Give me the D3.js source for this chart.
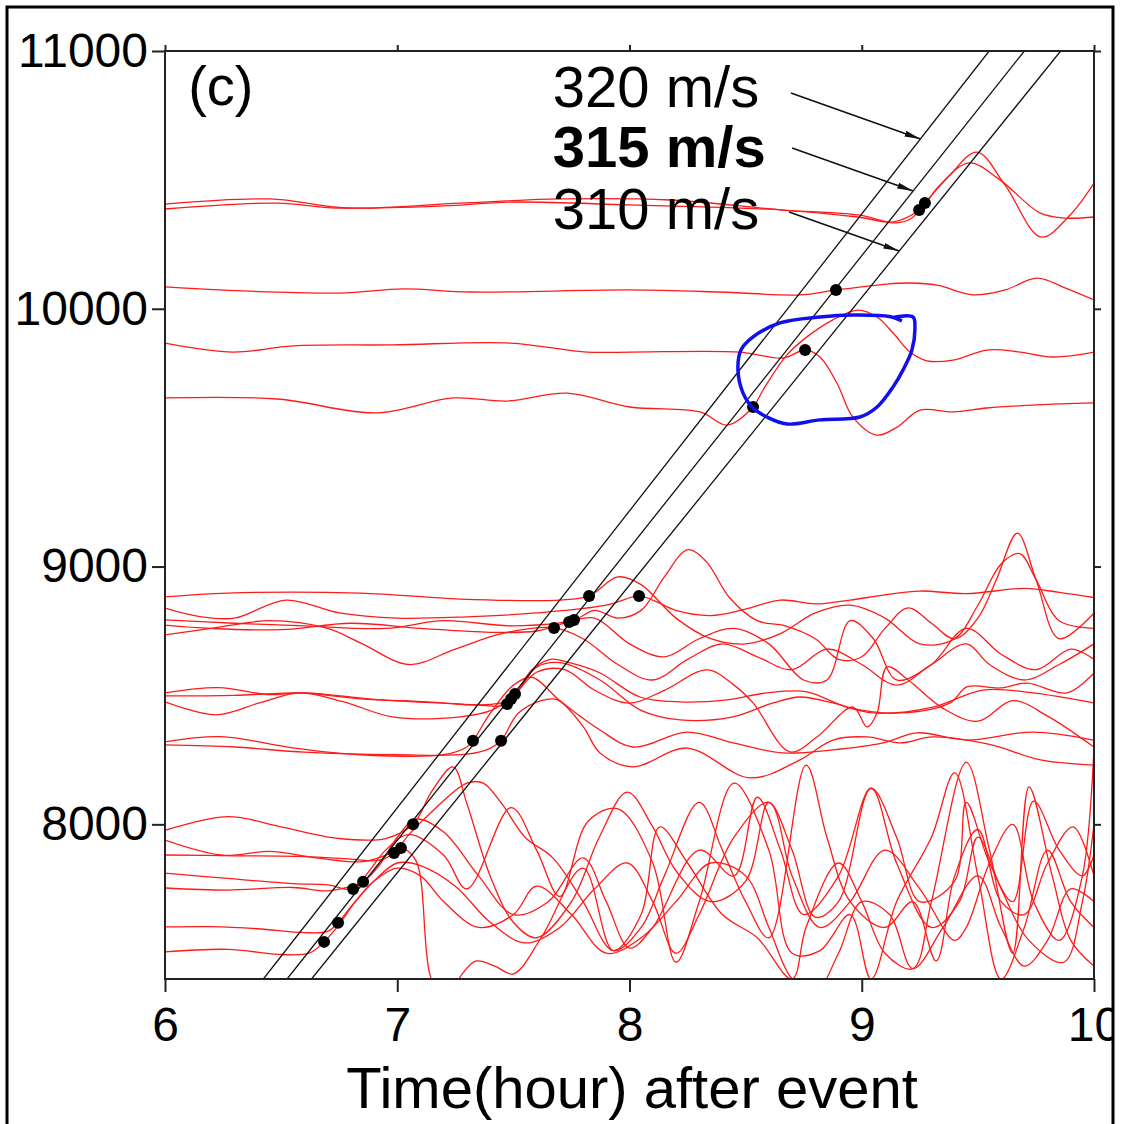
<!DOCTYPE html>
<html lang="en">
<head>
<meta charset="utf-8" />
<script src="https://d3js.org/d3.v7.min.js"></script>
<style>
    body { margin: 0; background: #fff; }
    svg { display: block; font-family: "Liberation Sans", Arial, sans-serif; }
</style>
</head>
<body>
<script>
// axis ticks
var xTicks = [6, 7, 8, 9, 10];
var yTicks = [8000, 9000, 10000, 11000];

// reference propagation speeds (m/s), drawn as d = v*3.6*t
var speeds = [320, 315, 310];

// arrival picks [hour, km]
var picks = [
    [6.685, 7544], [6.745, 7618], [6.81, 7749], [6.853, 7777], [6.986, 7889], [7.016, 7908], [7.068, 8000],
    [7.326, 8324], [7.447, 8324], [7.473, 8467], [7.49, 8486], [7.507, 8506],
    [7.675, 8762], [7.74, 8785], [7.761, 8793], [7.826, 8886], [8.041, 8886],
    [8.532, 9619], [8.756, 9840], [8.889, 10073],
    [9.247, 10383], [9.272, 10410]
];

// waveforms [hour, km], one array per station
var trA = [[6.0,10406],[6.452,10426],[6.784,10391],[7.27,10410],[7.701,10426],[8.174,10422],[8.661,10383],[8.984,10364],[9.147,10333],[9.216,10352],[9.272,10410],[9.38,10519],[9.496,10608],[9.617,10480],[9.772,10278],[9.897,10364],[10.0,10488]];
var trB = [[6.0,10387],[6.482,10410],[6.741,10391],[7.197,10399],[7.485,10414],[8.002,10403],[8.661,10383],[8.984,10356],[9.135,10337],[9.247,10383],[9.337,10480],[9.462,10566],[9.595,10500],[9.767,10372],[9.875,10352],[10.0,10356]];
var trC = [[6.0,10085],[6.237,10073],[6.754,10061],[7.025,10077],[7.313,10065],[8.002,10073],[8.39,10065],[8.734,10054],[8.889,10073],[9.109,10096],[9.208,10100],[9.324,10092],[9.479,10054],[9.617,10073],[9.755,10119],[9.875,10081],[10.0,10034]];
var trD = [[6.0,9867],[6.293,9832],[6.551,9856],[6.982,9860],[7.485,9867],[7.817,9832],[8.002,9832],[8.476,9832],[8.661,9809],[8.756,9840],[8.82,9813],[8.893,9712],[8.962,9580],[9.066,9510],[9.152,9541],[9.251,9607],[9.393,9600],[9.539,9615],[9.755,9627],[10.0,9635]];
var trE = [[6.0,9654],[6.482,9650],[6.913,9596],[7.24,9654],[7.473,9642],[7.731,9673],[8.002,9619],[8.304,9600],[8.42,9549],[8.532,9619],[8.575,9685],[8.678,9821],[8.764,9891],[8.876,9957],[8.984,9995],[9.066,9968],[9.135,9906],[9.208,9832],[9.281,9798],[9.393,9801],[9.539,9840],[9.681,9832],[9.823,9813],[10.0,9832]];

var trH1 = [[6.0,8882],[6.27,8897],[6.84,8897],[7.27,8874],[7.7,8870],[7.826,8886],[7.95,8960],[8.05,8930],[8.2,8800],[8.35,8720],[8.5,8700],[8.65,8740],[8.8,8820],[8.95,8850],[9.1,8800],[9.25,8700],[9.4,8720],[9.5,8850],[9.6,9010],[9.68,9050],[9.75,8950],[9.85,8790],[10.0,8760]];
var trH2 = [[6.0,8839],[6.15,8806],[6.3,8800],[6.52,8870],[6.75,8820],[7.0,8800],[7.3,8805],[7.6,8820],[7.9,8850],[8.041,8886],[8.1,8870],[8.2,8830],[8.35,8810],[8.5,8835],[8.65,8870],[8.8,8855],[8.95,8870],[9.1,8890],[9.25,8905],[9.45,8895],[9.7,8915],[9.85,8900],[10.0,8880]];
var trH3 = [[6.0,8793],[6.3,8780],[6.6,8770],[6.95,8760],[7.2,8790],[7.5,8770],[7.761,8793],[7.85,8830],[7.95,8800],[8.05,8830],[8.15,8960],[8.25,9065],[8.33,9020],[8.43,8880],[8.55,8790],[8.67,8770],[8.8,8720],[8.9,8640],[9.0,8650],[9.1,8760],[9.2,8840],[9.3,8780],[9.4,8720],[9.5,8800],[9.58,8950],[9.67,9130],[9.75,8950],[9.85,8720],[10.0,8820]];
var trH4 = [[6.0,8773],[6.2,8760],[6.5,8755],[6.8,8780],[7.1,8760],[7.4,8745],[7.6,8750],[7.74,8785],[7.85,8800],[8.0,8700],[8.15,8650],[8.3,8720],[8.45,8760],[8.6,8700],[8.75,8560],[8.85,8560],[8.95,8790],[9.05,8720],[9.15,8560],[9.3,8620],[9.45,8760],[9.6,8660],[9.75,8600],[9.9,8680],[10.0,8640]];
var trH5 = [[6.0,8735],[6.2,8760],[6.45,8790],[6.7,8760],[6.85,8700],[7.05,8620],[7.25,8680],[7.45,8740],[7.675,8762],[7.8,8720],[7.95,8620],[8.1,8560],[8.25,8640],[8.4,8700],[8.55,8650],[8.7,8600],[8.85,8680],[9.0,8620],[9.15,8540],[9.3,8620],[9.45,8700],[9.55,8620],[9.7,8560],[9.85,8620],[10.0,8700]];

var trM1 = [[6.0,8510],[6.23,8530],[6.45,8503],[6.58,8510],[6.84,8487],[7.13,8475],[7.34,8463],[7.473,8467],[7.58,8600],[7.66,8640],[7.75,8625],[7.873,8587],[8.045,8494],[8.217,8475],[8.42,8483],[8.592,8510],[8.764,8514],[8.936,8455],[9.165,8432],[9.38,8471],[9.453,8533],[9.595,8529],[9.712,8548],[9.884,8510],[10.0,8587]];
var trM2 = [[6.0,8498],[6.3,8500],[6.6,8510],[6.9,8485],[7.2,8470],[7.4,8465],[7.49,8486],[7.6,8610],[7.7,8627],[7.873,8560],[8.045,8444],[8.217,8405],[8.446,8417],[8.618,8471],[8.734,8494],[8.876,8471],[9.048,8432],[9.307,8455],[9.522,8521],[9.737,8510],[10.0,8471]];
var trM3 = [[6.0,8475],[6.22,8425],[6.41,8472],[6.58,8510],[6.77,8475],[6.98,8417],[7.27,8417],[7.41,8444],[7.507,8506],[7.6,8590],[7.72,8600],[7.85,8520],[8.0,8470],[8.15,8520],[8.334,8599],[8.45,8540],[8.532,8471],[8.691,8281],[8.807,8339],[8.962,8455],[9.023,8378],[9.066,8432],[9.109,8611],[9.2,8560],[9.35,8450],[9.5,8400],[9.65,8480],[9.8,8420],[10.0,8300]];
var trM4 = [[6.0,8320],[6.24,8340],[6.55,8297],[6.84,8270],[7.2,8270],[7.3,8300],[7.326,8324],[7.4,8430],[7.5,8540],[7.58,8570],[7.7,8480],[7.873,8366],[8.015,8300],[8.248,8358],[8.446,8316],[8.661,8277],[8.876,8289],[9.092,8316],[9.238,8355],[9.453,8327],[9.737,8358],[10.0,8327]];
var trM5 = [[6.0,8308],[6.3,8300],[6.6,8280],[7.0,8270],[7.3,8272],[7.4,8295],[7.447,8324],[7.52,8430],[7.62,8480],[7.69,8483],[7.8,8380],[7.873,8277],[8.015,8223],[8.248,8296],[8.519,8180],[8.734,8250],[8.876,8327],[9.023,8339],[9.165,8316],[9.307,8339],[9.55,8310],[9.77,8250],[10.0,8230]];

var trL1 = [[6.0,7977],[6.27,8030],[6.5,7990],[6.75,7945],[6.95,7945],[7.068,8000],[7.15,8130],[7.24,8223],[7.3,8080],[7.4,7800],[7.5,7620],[7.6,7560],[7.75,7700],[7.87,7950],[7.99,8125],[8.1,7990],[8.2,7820],[8.35,7700],[8.5,7780],[8.6,8085],[8.7,7900],[8.8,7640],[8.9,7700],[9.04,8140],[9.15,7950],[9.25,7700],[9.4,7780],[9.45,8085],[9.55,7850],[9.65,7700],[9.74,8090],[9.85,7900],[9.95,7800],[10.0,7880]];
var trL2 = [[6.0,7939],[6.25,7880],[6.45,7895],[6.65,7870],[6.85,7855],[6.95,7880],[7.016,7908],[7.08,7860],[7.14,7420],[7.2,7300],[7.28,7420],[7.34,7470],[7.42,7450],[7.5,7420],[7.62,7560],[7.8,7830],[7.93,7510],[8.05,7650],[8.13,7990],[8.25,7850],[8.4,7650],[8.55,7560],[8.7,7400],[8.76,7600],[8.9,7850],[9.0,7700],[9.1,7500],[9.22,7440],[9.3,7700],[9.45,8240],[9.55,7900],[9.65,7500],[9.72,8145],[9.82,7800],[9.9,7550],[10.0,7450]];
var trL3 = [[6.0,7881],[6.3,7878],[6.6,7875],[6.8,7865],[6.92,7860],[6.986,7889],[7.05,7960],[7.15,8050],[7.3,8160],[7.37,8160],[7.45,8080],[7.55,7950],[7.67,7870],[7.8,7700],[7.93,7510],[8.05,7600],[8.15,7800],[8.3,8085],[8.4,7900],[8.5,7700],[8.6,7560],[8.76,8230],[8.85,7950],[8.95,7700],[9.1,7600],[9.22,7700],[9.32,7470],[9.4,7800],[9.5,7980],[9.6,7700],[9.7,7650],[9.8,7850],[9.91,7990],[10.0,7800]];
var trL4 = [[6.0,7811],[6.27,7790],[6.55,7770],[6.7,7765],[6.81,7749],[6.88,7820],[6.95,7900],[7.05,7960],[7.2,7880],[7.3,7750],[7.49,8065],[7.6,7900],[7.7,7720],[7.82,8010],[7.95,8060],[8.1,7850],[8.2,7465],[8.3,7700],[8.45,8160],[8.6,7900],[8.7,7500],[8.82,7510],[8.95,7650],[9.04,7400],[9.15,7700],[9.3,7950],[9.4,8200],[9.5,7800],[9.6,7400],[9.7,7600],[9.8,7900],[9.9,7700],[10.0,7600]];
var trL5 = [[6.0,7753],[6.27,7745],[6.55,7755],[6.7,7742],[6.8,7760],[6.853,7777],[6.93,7850],[7.0,7950],[7.08,8020],[7.2,7970],[7.35,7800],[7.5,7650],[7.65,7700],[7.8,7870],[7.9,7700],[8.0,7520],[8.1,7600],[8.3,7900],[8.45,7800],[8.55,8105],[8.65,7900],[8.75,7650],[8.9,7800],[9.04,8140],[9.15,7850],[9.3,7600],[9.42,7700],[9.5,7950],[9.6,7750],[9.72,7550],[9.87,7465],[9.95,7700],[10.0,8000]];
var trL6 = [[6.0,7602],[6.2,7603],[6.4,7595],[6.6,7580],[6.7,7585],[6.745,7618],[6.8,7680],[6.9,7780],[7.0,7850],[7.1,7840],[7.25,7760],[7.4,7620],[7.55,7540],[7.7,7600],[7.85,7750],[7.99,7850],[8.1,7700],[8.2,7500],[8.3,7650],[8.45,7950],[8.6,8085],[8.7,7800],[8.82,7600],[8.95,7700],[9.1,7900],[9.25,7750],[9.4,7550],[9.45,7600],[9.55,7850],[9.65,8000],[9.74,7700],[9.85,7550],[9.95,7800],[10.0,8300]];
var trL7 = [[6.0,7505],[6.27,7515],[6.5,7495],[6.62,7500],[6.685,7544],[6.74,7600],[6.82,7700],[6.9,7780],[7.0,7830],[7.1,7800],[7.2,7700],[7.35,7600],[7.5,7650],[7.6,7760],[7.75,7650],[7.9,7500],[8.05,7560],[8.2,7700],[8.35,7850],[8.5,7800],[8.6,7600],[8.7,7400],[8.8,7350],[8.9,7500],[9.0,7700],[9.12,7650],[9.22,7440],[9.35,7600],[9.5,7800],[9.6,7600],[9.7,7450],[9.8,7550],[9.9,7750],[10.0,7700]];

var traces = [trA, trB, trC, trD, trE, trH1, trH2, trH3, trH4, trH5,
              trM1, trM2, trM3, trM4, trM5, trL1, trL2, trL3, trL4, trL5, trL6, trL7];

// hand drawn highlight around the 9600-10000 km arrivals [hour, km]
var loop = [[9.135,9966],[9.221,9968],[9.229,9926],[9.216,9840],[9.178,9763],[9.135,9697],[9.066,9619],[8.992,9580],[8.82,9569],[8.678,9553],[8.592,9580],[8.532,9615],[8.489,9673],[8.467,9763],[8.48,9840],[8.532,9891],[8.648,9945],[8.82,9968],[8.962,9976],[9.12,9970],[9.173,9953]];

// labels for the speed lines: text anchor, arrow tail and arrow tip [hour, km]
var speedLabels = [
    { text: "320 m/s", bold: false, at: [7.67, 10783], tail: [8.695, 10837], tipKm: 10659, v: 320 },
    { text: "315 m/s", bold: true,  at: [7.67, 10550], tail: [8.70, 10624], tipKm: 10457, v: 315 },
    { text: "310 m/s", bold: false, at: [7.67, 10310], tail: [8.687, 10375], tipKm: 10224, v: 310 }
];

var width = 1121, height = 1124;
var svg = d3.select("body").append("svg")
    .attr("width", width)
    .attr("height", height);

var x = d3.scaleLinear().domain([6, 10]).range([165, 1094]);
var y = d3.scaleLinear().domain([7400, 11000]).range([979, 51]);

svg.append("defs").append("clipPath").attr("id", "plot")
    .append("rect")
    .attr("x", x(6)).attr("y", y(11000))
    .attr("width", x(10) - x(6)).attr("height", y(7400) - y(11000));

svg.select("defs").append("marker")
    .attr("id", "head")
    .attr("viewBox", "0 0 16 8")
    .attr("refX", 16).attr("refY", 4)
    .attr("markerWidth", 16).attr("markerHeight", 8)
    .attr("markerUnits", "userSpaceOnUse")
    .attr("orient", "auto")
    .append("path").attr("d", "M0,1 L16,4 L0,7 Z").attr("fill", "#111");

var g = svg.append("g").attr("clip-path", "url(#plot)");

var line = d3.line()
    .x(function (d) { return x(d[0]); })
    .y(function (d) { return y(d[1]); })
    .curve(d3.curveCatmullRom.alpha(0.5));

// waveforms
g.selectAll("path.trace")
    .data(traces)
    .join("path")
    .attr("class", "trace")
    .attr("fill", "none")
    .attr("stroke", "#ff1a1a")
    .attr("stroke-width", 1.3)
    .attr("d", line);

// speed lines
g.selectAll("line.speed")
    .data(speeds)
    .join("line")
    .attr("class", "speed")
    .attr("x1", function (v) { return x(7400 / (v * 3.6)); })
    .attr("y1", y(7400))
    .attr("x2", function (v) { return x(11000 / (v * 3.6)); })
    .attr("y2", y(11000))
    .attr("stroke", "#111")
    .attr("stroke-width", 1.3);

// picks
g.selectAll("circle")
    .data(picks)
    .join("circle")
    .attr("cx", function (d) { return x(d[0]); })
    .attr("cy", function (d) { return y(d[1]); })
    .attr("r", 6)
    .attr("fill", "#000");

// blue loop
g.append("path")
    .datum(loop)
    .attr("fill", "none")
    .attr("stroke", "#1010ee")
    .attr("stroke-width", 3.5)
    .attr("stroke-linejoin", "round")
    .attr("d", line);

// plot frame
svg.append("rect")
    .attr("x", x(6)).attr("y", y(11000))
    .attr("width", x(10) - x(6)).attr("height", y(7400) - y(11000))
    .attr("fill", "none").attr("stroke", "#222").attr("stroke-width", 2);

var axisFont = function (sel) {
    sel.select(".domain").remove();
    sel.selectAll(".tick line").attr("stroke", "#222").attr("stroke-width", 2);
    sel.selectAll(".tick text").attr("fill", "#000").style("font-size", "48px")
        .style("font-family", "'Liberation Sans', Arial, sans-serif");
};

svg.append("g").attr("transform", "translate(" + x(6) + ",0)")
    .call(d3.axisLeft(y).tickValues(yTicks).tickSize(13).tickPadding(4).tickFormat(d3.format("d")))
    .call(axisFont);
svg.append("g").attr("transform", "translate(" + x(10) + ",0)")
    .call(d3.axisRight(y).tickValues(yTicks).tickSize(7).tickFormat(""))
    .call(axisFont);
svg.append("g").attr("transform", "translate(0," + y(7400) + ")")
    .call(d3.axisBottom(x).tickValues(xTicks).tickSize(13).tickPadding(15).tickFormat(d3.format("d")))
    .call(axisFont);
svg.append("g").attr("transform", "translate(0," + y(11000) + ")")
    .call(d3.axisTop(x).tickValues(xTicks).tickSize(6).tickFormat(""))
    .call(axisFont);

// panel letter
svg.append("text")
    .attr("x", x(6.1)).attr("y", y(10790))
    .style("font-size", "56px")
    .text("(c)");

// speed labels and arrows
speedLabels.forEach(function (s) {
    svg.append("text")
        .attr("x", x(s.at[0])).attr("y", y(s.at[1]))
        .style("font-size", "58px")
        .style("font-weight", s.bold ? "bold" : "normal")
        .text(s.text);
    svg.append("line")
        .attr("x1", x(s.tail[0])).attr("y1", y(s.tail[1]))
        .attr("x2", x(s.tipKm / (s.v * 3.6))).attr("y2", y(s.tipKm))
        .attr("stroke", "#111").attr("stroke-width", 1.6)
        .attr("marker-end", "url(#head)");
});

// axis title
svg.append("text")
    .attr("x", 632).attr("y", 1108)
    .attr("text-anchor", "middle")
    .style("font-size", "58px")
    .text("Time(hour) after event");

// outer figure border
svg.append("rect").attr("x", 1114).attr("y", 0).attr("width", 7).attr("height", height).attr("fill", "#fff");
svg.append("path")
    .attr("d", "M7," + height + "V7H1113V" + height)
    .attr("fill", "none").attr("stroke", "#000").attr("stroke-width", 3);
</script>
</body>
</html>
